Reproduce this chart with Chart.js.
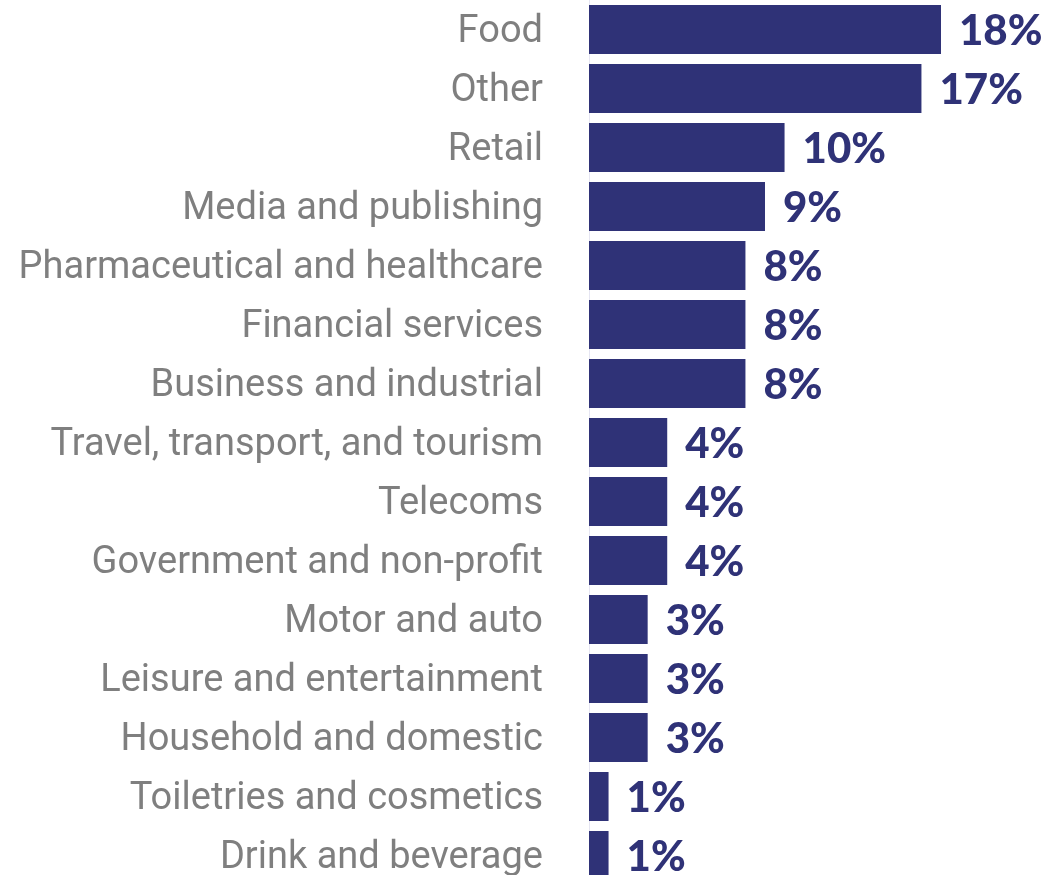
<!DOCTYPE html>
<html>
<head>
<meta charset="utf-8">
<script src="https://cdn.jsdelivr.net/npm/chart.js@4"></script>
<style>
  html, body { margin: 0; padding: 0; background: #fff; overflow: hidden; }
  #wrap { width: 1053px; height: 885px; position: relative; }
</style>
</head>
<body>
<div id="wrap"><canvas id="chartArea"></canvas></div>
<script>
// sectors, largest share first
const categories = [
  'Food',
  'Other',
  'Retail',
  'Media and publishing',
  'Pharmaceutical and healthcare',
  'Financial services',
  'Business and industrial',
  'Travel, transport, and tourism',
  'Telecoms',
  'Government and non-profit',
  'Motor and auto',
  'Leisure and entertainment',
  'Household and domestic',
  'Toiletries and cosmetics',
  'Drink and beverage'
];
const shares = [18, 17, 10, 9, 8, 8, 8, 4, 4, 4, 3, 3, 3, 1, 1];

const NAVY = '#2f3277';
const GREY = '#7f7f7f';

// percent labels to the right of each bar
const valueLabels = {
  id: 'valueLabels',
  afterDatasetsDraw(chart) {
    const { ctx } = chart;
    const meta = chart.getDatasetMeta(0);
    ctx.save();
    ctx.font = '900 42px Lato';
    ctx.fillStyle = NAVY;
    ctx.textAlign = 'left';
    ctx.textBaseline = 'middle';
    meta.data.forEach((bar, i) => {
      ctx.fillText(shares[i] + '%', bar.x + 18, bar.y + 2);
    });
    ctx.restore();
  }
};

const ctx = document.getElementById('chartArea').getContext('2d');
new Chart(ctx, {
  type: 'bar',
  data: {
    labels: categories,
    datasets: [{
      data: shares,
      backgroundColor: NAVY,
      borderWidth: 0,
      barPercentage: 0.83,
      categoryPercentage: 1
    }]
  },
  options: {
    indexAxis: 'y',
    responsive: true,
    maintainAspectRatio: false,
    animation: false,
    layout: { padding: { left: 0, right: 112, top: 0, bottom: 0 } },
    plugins: {
      legend: { display: false },
      tooltip: { enabled: false }
    },
    scales: {
      x: {
        display: false,
        min: 0,
        max: 18
      },
      y: {
        afterFit(scale) {
          // fixed label column, no extra room above/below the bars
          scale.width = 589;
          scale.paddingTop = 0;
          scale.paddingBottom = 0;
        },
        grid: { display: false, drawTicks: false },
        border: { display: true, color: '#e6e6f2', width: 1 },
        ticks: {
          padding: 46,
          labelOffset: 3,
          color: GREY,
          font: { family: 'Roboto', size: 38 }
        }
      }
    }
  },
  plugins: [valueLabels]
});
</script>
</body>
</html>
